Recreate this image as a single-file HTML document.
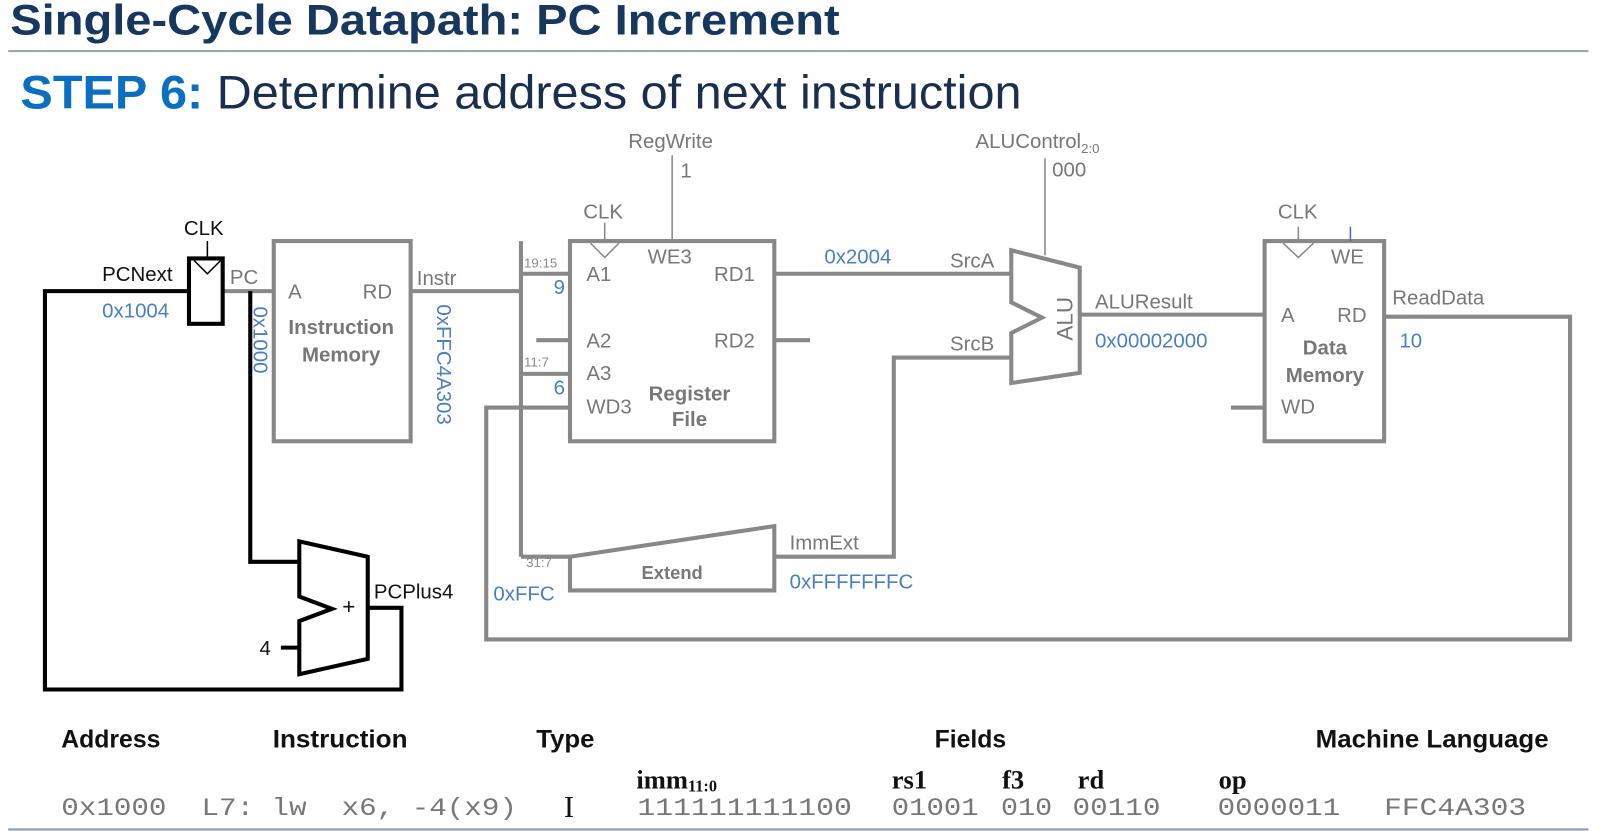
<!DOCTYPE html>
<html><head><meta charset="utf-8"><style>
html,body{margin:0;padding:0;background:#fff;}
svg{display:block;}
</style></head><body>
<svg width="1600" height="831" viewBox="0 0 1600 831" xmlns="http://www.w3.org/2000/svg" font-family="Liberation Sans, sans-serif">
<rect width="1600" height="831" fill="#fff"/>
<g transform="scale(1.0215)">
<!-- Header -->
<text x="10" y="34" font-size="42" font-weight="bold" fill="#17375e" textLength="812" lengthAdjust="spacingAndGlyphs">Single-Cycle Datapath: PC Increment</text>
<line x1="8" y1="50" x2="1555" y2="50" stroke="#9aa6b2" stroke-width="2"/>
<text x="20" y="106" font-size="46" fill="#1a2e4e" textLength="980" lengthAdjust="spacingAndGlyphs"><tspan font-weight="bold" fill="#0a6fc0">STEP 6:</tspan> Determine address of next instruction</text>

<g fill="none" stroke="#888" stroke-width="4" stroke-linejoin="miter">
  <line x1="218" y1="285" x2="268" y2="285"/>
  <rect x="268" y="236" width="134" height="196"/>
  <line x1="402" y1="285" x2="510" y2="285"/>
  <line x1="510" y1="236" x2="510" y2="545"/>
  <line x1="510" y1="268" x2="558" y2="268"/>
  <line x1="510" y1="366" x2="558" y2="366"/>
  <line x1="510" y1="545" x2="558" y2="545"/>
  <line x1="525" y1="333" x2="558" y2="333"/>
  <rect x="558" y="236" width="200" height="196"/>
  <polyline points="558,399 476,399 476,626 1537,626 1537,310 1355,310"/>
  <line x1="758" y1="268" x2="990" y2="268"/>
  <line x1="758" y1="333" x2="793" y2="333"/>
  <polygon points="558,545 758,515 758,578 558,578"/>
  <polyline points="758,545 875,545 875,350 990,350"/>
  <polygon points="990,245 1057,262 1057,365 990,375 990,326 1020,311 990,296"/>
  <line x1="1057" y1="308" x2="1238" y2="308"/>
  <rect x="1238" y="236" width="117" height="196"/>
  <line x1="1205" y1="399" x2="1238" y2="399"/>
</g>
<g fill="none" stroke="#888" stroke-width="1.5">
  <polyline points="578,238 592,252 606,238"/>
  <line x1="592" y1="218" x2="592" y2="238"/>
  <line x1="658" y1="152" x2="658" y2="236"/>
  <line x1="1023" y1="155" x2="1023" y2="250"/>
  <polyline points="1256,238 1271,252 1286,238"/>
  <line x1="1271" y1="222" x2="1271" y2="238"/>
</g>
<line x1="1322" y1="222" x2="1322" y2="236" stroke="#5a5ad0" stroke-width="1.5"/>

<g fill="none" stroke="#000" stroke-width="4">
  <rect x="185" y="253" width="33" height="64"/>
  <polyline points="185,285 44,285 44,675 393,675 393,595 360,595"/>
  <polyline points="245,285 245,550 293,550"/>
  <polygon points="293,530 360,545 360,645 293,660 293,608 325,596 293,584"/>
  <line x1="275" y1="634" x2="293" y2="634"/>
</g>
<g fill="none" stroke="#000" stroke-width="1.5">
  <polyline points="190,255 203,268 216,255"/>
  <line x1="203" y1="236" x2="203" y2="255"/>
</g>

<g font-size="20" fill="#111">
  <text x="180" y="230">CLK</text>
  <text x="100" y="275">PCNext</text>
  <text x="366" y="586">PCPlus4</text>
  <text x="254" y="641">4</text>
  <text x="335" y="601" font-size="22">+</text>
</g>
<g font-size="20" fill="#777">
  <text x="225" y="278">PC</text>
  <text x="282" y="292">A</text>
  <text x="355" y="292">RD</text>
  <text x="408" y="279">Instr</text>
  <text x="571" y="214">CLK</text>
  <text x="615" y="145">RegWrite</text>
  <text x="666" y="174">1</text>
  <text x="634" y="258">WE3</text>
  <text x="574" y="275">A1</text>
  <text x="574" y="340">A2</text>
  <text x="574" y="372">A3</text>
  <text x="574" y="405">WD3</text>
  <text x="699" y="275">RD1</text>
  <text x="699" y="340">RD2</text>
  <text x="930" y="262">SrcA</text>
  <text x="930" y="343">SrcB</text>
  <text x="955" y="145">ALUControl<tspan font-size="13" dy="5">2:0</tspan></text>
  <text x="1030" y="173">000</text>
  <text x="1072" y="302">ALUResult</text>
  <text x="1251" y="214">CLK</text>
  <text x="1303" y="258">WE</text>
  <text x="1254" y="315">A</text>
  <text x="1309" y="315">RD</text>
  <text x="1254" y="405">WD</text>
  <text x="1363" y="298">ReadData</text>
  <text x="773" y="538">ImmExt</text>
  <text x="1050" y="312" text-anchor="middle" transform="rotate(-90 1050 312)" font-size="22">ALU</text>
</g>
<g font-size="13" fill="#888">
  <text x="513" y="262">19:15</text>
  <text x="513" y="359">11:7</text>
  <text x="515" y="555">31:7</text>
</g>
<g font-size="20" font-weight="bold" fill="#777" text-anchor="middle">
  <text x="334" y="327">Instruction</text>
  <text x="334" y="354">Memory</text>
  <text x="675" y="392">Register</text>
  <text x="675" y="417">File</text>
  <text x="1297" y="347">Data</text>
  <text x="1297" y="374">Memory</text>
  <text x="658" y="567" font-size="18">Extend</text>
</g>
<g font-size="20" fill="#4a7fc1">
  <text x="100" y="311">0x1004</text>
  <text x="248" y="300" transform="rotate(90 248 300)">0x1000</text>
  <text x="428" y="298" transform="rotate(90 428 298)">0xFFC4A303</text>
  <text x="542" y="288">9</text>
  <text x="542" y="386">6</text>
  <text x="807" y="258">0x2004</text>
  <text x="1072" y="340">0x00002000</text>
  <text x="1370" y="340">10</text>
  <text x="483" y="588">0xFFC</text>
  <text x="773" y="576">0xFFFFFFFC</text>
</g>

<g font-size="24" font-weight="bold" fill="#111">
  <text x="60" y="732" textLength="97" lengthAdjust="spacingAndGlyphs">Address</text>
  <text x="267" y="732" textLength="132" lengthAdjust="spacingAndGlyphs">Instruction</text>
  <text x="525" y="732" textLength="57" lengthAdjust="spacingAndGlyphs">Type</text>
  <text x="915" y="732" textLength="70" lengthAdjust="spacingAndGlyphs">Fields</text>
  <text x="1288" y="732" textLength="228" lengthAdjust="spacingAndGlyphs">Machine Language</text>
</g>
<g font-family="Liberation Serif, serif" font-weight="bold" font-size="26" fill="#111">
  <text x="623" y="772">imm<tspan font-size="16" dy="3">11:0</tspan></text>
  <text x="873" y="772">rs1</text>
  <text x="981" y="772">f3</text>
  <text x="1055" y="772">rd</text>
  <text x="1193" y="772">op</text>
  <text x="552" y="800" font-weight="normal" font-size="30">I</text>
</g>
<g font-family="Liberation Mono, monospace" font-size="24" fill="#777">
  <text x="60" y="798" textLength="446" lengthAdjust="spacingAndGlyphs" xml:space="preserve">0x1000  L7: lw  x6, -4(x9)</text>
  <text x="624" y="798" textLength="210" lengthAdjust="spacingAndGlyphs">111111111100</text>
  <text x="873" y="798" textLength="85" lengthAdjust="spacingAndGlyphs">01001</text>
  <text x="980" y="798" textLength="50" lengthAdjust="spacingAndGlyphs">010</text>
  <text x="1050" y="798" textLength="86" lengthAdjust="spacingAndGlyphs">00110</text>
  <text x="1192" y="798" textLength="120" lengthAdjust="spacingAndGlyphs">0000011</text>
  <text x="1355" y="798" textLength="139" lengthAdjust="spacingAndGlyphs">FFC4A303</text>
</g>
<line x1="8" y1="812" x2="1555" y2="812" stroke="#8a9aae" stroke-width="2"/>
</g>
</svg>
</body></html>
